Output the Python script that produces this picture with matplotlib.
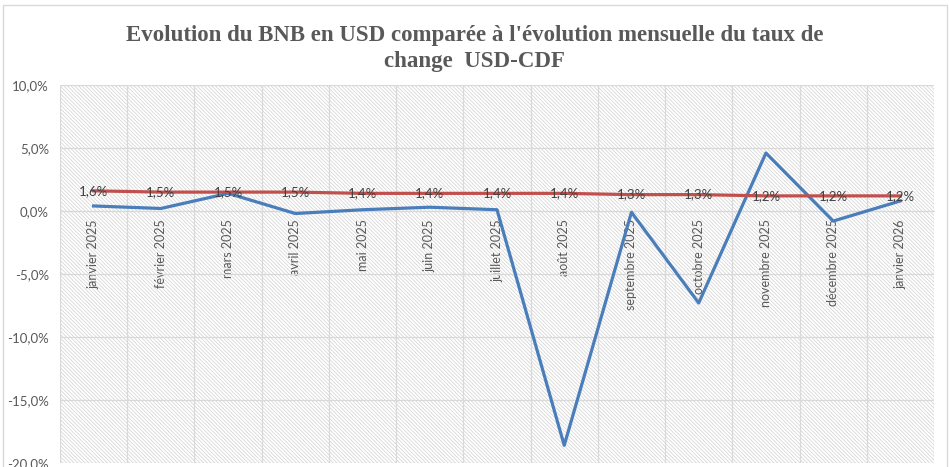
import matplotlib
matplotlib.use("Agg")
import matplotlib.pyplot as plt
import matplotlib.patches as mpatches
from matplotlib.ticker import FuncFormatter, FixedLocator

months = ["janvier 2025", "février 2025", "mars 2025", "avril 2025", "mai 2025",
          "juin 2025", "juillet 2025", "août 2025", "septembre 2025",
          "octobre 2025", "novembre 2025", "décembre 2025", "janvier 2026"]
bnb_usd = [0.4, 0.2, 1.4, -0.2, 0.1, 0.3, 0.1, -18.6, -0.1, -7.3, 4.6, -0.8, 0.8]
taux_change = [1.6, 1.5, 1.5, 1.5, 1.4, 1.4, 1.4, 1.4, 1.3, 1.3, 1.2, 1.2, 1.2]
title = "Evolution du BNB en USD comparée à l'évolution mensuelle du taux de\nchange  USD-CDF"

plt.rcParams['hatch.linewidth'] = 0.5
plt.rcParams['hatch.color'] = '#d0d0d0'

fig = plt.figure(figsize=(9.49, 4.67), dpi=100)
ax = fig.add_axes([60/949, 1 - 463/467, 874/949, 378/467])

# outer chart border
fig.patches.append(mpatches.Rectangle((3/949, -0.1), 944/949, 1.1 - 5/467,
                                      transform=fig.transFigure, fill=False,
                                      edgecolor='#d9d9d9', lw=1))

# hatched plot area
ax.add_patch(mpatches.Rectangle((0, 0), 1, 1, transform=ax.transAxes,
                                facecolor='white', edgecolor='#d0d0d0',
                                hatch='\\' * 9, lw=0, zorder=0))

x = list(range(len(months)))
ax.plot(x, bnb_usd, color='#4a7ebb', lw=2.3, zorder=3)
ax.plot(x, taux_change, color='#c0504d', lw=2.3, zorder=4)

for xi, v in zip(x, taux_change):
    ax.text(xi, v, f"{v:.1f}%".replace('.', ','), ha='center', va='center',
            fontsize=9.5, color='#404040', family='Lato', zorder=5)

ax.set_xlim(-0.5, len(months) - 0.5)
ax.set_ylim(-20, 10)
ax.set_yticks([-20, -15, -10, -5, 0, 5, 10])
ax.yaxis.set_major_formatter(FuncFormatter(lambda v, p: f"{v:.1f}%".replace('.', ',')))
ax.xaxis.set_minor_locator(FixedLocator([i - 0.5 for i in range(len(months) + 1)]))

ax.grid(axis='y', which='major', color='#d9d9d9', lw=0.9, zorder=1)
ax.grid(axis='x', which='minor', color='#d9d9d9', lw=0.9, zorder=1)
ax.set_axisbelow(True)

for s in ['top', 'right', 'left']:
    ax.spines[s].set_visible(False)
ax.spines['bottom'].set_position(('data', 0))
ax.spines['bottom'].set_color('#d9d9d9')
ax.tick_params(axis='both', which='both', length=0, colors='#595959', labelsize=9.5)
ax.tick_params(axis='y', pad=8)
ax.tick_params(axis='x', pad=6)

ax.set_xticks(x)
ax.set_xticklabels(months, rotation=90, va='top', ha='center',
                   family='Lato', fontsize=9, color='#595959')
for lab in ax.get_yticklabels():
    lab.set_family('Lato')

fig.text(0.5, 0.897, title, ha='center', va='center', fontsize=16.5,
         fontweight='bold', color='#595959', family='Liberation Serif',
         linespacing=1.3)

fig.savefig("out.png", dpi=100)
